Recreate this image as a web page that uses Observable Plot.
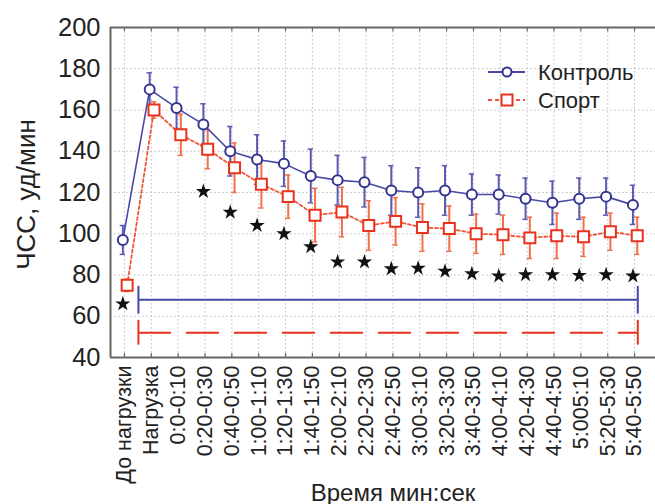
<!DOCTYPE html>
<html>
<head>
<meta charset="utf-8">
<script src="https://cdn.jsdelivr.net/npm/d3@7"></script>
<script src="https://cdn.jsdelivr.net/npm/@observablehq/plot@0.6"></script>
<style>
  html, body { margin: 0; padding: 0; background: #fff; }
  #chart svg { display: block; font-family: "Liberation Sans", Arial, sans-serif; }
</style>
</head>
<body>
<div id="chart"></div>
<script>
// ---- data ----
const categories = ["До нагрузки","Нагрузка","0:0-0:10","0:20-0:30","0:40-0:50","1:00-1:10","1:20-1:30","1:40-1:50","2:00-2:10","2:20-2:30","2:40-2:50","3:00-3:10","3:20-3:30","3:40-3:50","4:00-4:10","4:20-4:30","4:40-4:50","5:005:10","5:20-5:30","5:40-5:50"];
const controlMean = [97,170,161,153,140,136,134,128,126,125,121,120,121,119,119,117,115,117,118,114];
const controlErr  = [7,8,10,10,12,12,11,13,12,12,12,12,12,10,9.5,10,10.5,10,9,9.5];
const sportMean   = [75,160,148,141,132,124,118,109,110.5,104,106,103,102.5,100,99.5,98,99,98.5,101,99];
const sportErr    = [3,4,10,9.5,12,11.5,10.5,13,12,12,11.5,11.5,11,9.5,9.5,10,11,9.5,9,9];
const starIndex   = [0,3,4,5,6,7,8,9,10,11,12,13,14,15,16,17,18,19];
const starValue   = [66,120.5,110.4,104,100,93.7,86.3,86.3,83,83.3,81.8,80.6,79.5,80.1,80.1,79.8,80.1,79.5];
const yTicks      = [40,60,80,100,120,140,160,180,200];
const brackets    = [
  {series: "Контроль", from: 0.52, to: 19.12, y: 68, capLo: 61, capHi: 74.5},
  {series: "Спорт",    from: 0.52, to: 19.12, y: 52, capLo: 46, capHi: 58}
];
const seriesNames = ["Контроль", "Спорт"];

// ---- styles ----
const FONT = '"Liberation Sans", Arial, sans-serif';
const BLUE = "#34348f", BLUE_ERR = "#5a5ab4", BLUE_LINE = "#4848a8";
const RED = "#e8321e", RED_ERR = "#f0704c", RED_LINE = "#ef5536";
const AX = "#666";
const xDomain = [-0.52, 19.78];
const dBlue = -0.06, dRed = 0.1;

const idx = d3.range(categories.length);
const control = idx.map(i => ({x: i + dBlue, m: controlMean[i], lo: controlMean[i] - controlErr[i], hi: controlMean[i] + controlErr[i]}));
const sport = idx.map(i => ({x: i + dRed, m: sportMean[i], lo: sportMean[i] - sportErr[i], hi: sportMean[i] + sportErr[i]}));
const stars = starIndex.map((i, k) => ({x: i + dBlue, y: starValue[k]}));
const capW = 0.1;

const errMarks = (data, color) => [
  Plot.ruleX(data, {x: "x", y1: "lo", y2: "hi", stroke: color, strokeWidth: 2}),
  Plot.ruleY(data, {y: "hi", x1: d => d.x - capW, x2: d => d.x + capW, stroke: color, strokeWidth: 1.5}),
  Plot.ruleY(data, {y: "lo", x1: d => d.x - capW, x2: d => d.x + capW, stroke: color, strokeWidth: 1.5})
];

const bracketMarks = (b, color, dash) => [
  Plot.ruleY([b], {y: "y", x1: "from", x2: "to", stroke: color, strokeWidth: 2, strokeDasharray: dash}),
  Plot.ruleX([b], {x: "from", y1: "capLo", y2: "capHi", stroke: color, strokeWidth: 2}),
  Plot.ruleX([b], {x: "to", y1: "capLo", y2: "capHi", stroke: color, strokeWidth: 2})
];

const chart = Plot.plot({
  width: 655,
  height: 504,
  marginLeft: 110,
  marginRight: 0,
  marginTop: 27,
  marginBottom: 147,
  style: {fontFamily: FONT, color: "#222", background: "#fff"},
  x: {domain: xDomain, axis: null},
  y: {domain: [40, 200], axis: null},
  marks: [
    Plot.gridX(idx, {stroke: "#bdbdbd", strokeOpacity: 1, strokeDasharray: "1.5,2.5"}),
    Plot.gridY(yTicks, {stroke: "#bdbdbd", strokeOpacity: 1, strokeDasharray: "1.5,2.5"}),
    Plot.ruleY([40, 200], {stroke: AX, strokeWidth: 2}),
    Plot.ruleX([xDomain[0]], {stroke: AX, strokeWidth: 2}),
    Plot.ruleX(idx, {y1: 40, y2: 42, stroke: AX, strokeWidth: 1.2}),
    Plot.ruleX(idx, {y1: 198, y2: 200, stroke: AX, strokeWidth: 1.2}),
    ...bracketMarks(brackets[0], BLUE_LINE, null),
    ...bracketMarks(brackets[1], RED, "33,15"),
    ...errMarks(control, BLUE_ERR),
    ...errMarks(sport, RED_ERR),
    Plot.line(control, {x: "x", y: "m", stroke: BLUE_LINE, strokeWidth: 1.6}),
    Plot.line(sport, {x: "x", y: "m", stroke: RED_LINE, strokeWidth: 1.8, strokeDasharray: "3,2.5"}),
    Plot.dot(control, {x: "x", y: "m", r: 5, stroke: BLUE, strokeWidth: 2, fill: "white"}),
    Plot.dot(sport, {x: "x", y: "m", r: 6.2, symbol: "square", stroke: RED, strokeWidth: 2, fill: "white"}),
    Plot.dot(stars, {x: "x", y: "y", r: 4.8, symbol: "star", fill: "#111", stroke: "none"}),
    Plot.axisY(yTicks, {tickSize: 0, tickPadding: 10, fontSize: 25.5, fill: "#222", label: null}),
    Plot.axisX(idx, {tickSize: 0, tickPadding: 8, tickRotate: -90, fontSize: 21.5, fill: "#222", tickFormat: i => categories[i], label: null}),
    Plot.text(["Время мин:сек"], {frameAnchor: "bottom", dy: 143, dx: 10, lineAnchor: "bottom", textAnchor: "middle", fontSize: 24, fill: "#222"}),
    Plot.text(["ЧСС, уд/мин"], {frameAnchor: "left", dx: -84, dy: 2, rotate: -90, textAnchor: "middle", fontSize: 26, fill: "#222"})
  ]
});

// ---- legend (inside the plot, top-right) ----
const svg = d3.select(chart);
const lg = svg.append("g").attr("font-family", FONT).attr("font-size", 22).attr("fill", "#222").attr("text-anchor", "start");
const legendItems = [
  {name: seriesNames[0], color: BLUE_LINE, mark: BLUE, dash: null, sym: "circle"},
  {name: seriesNames[1], color: RED_LINE, mark: RED, dash: "4,3", sym: "square"}
];
legendItems.forEach((it, k) => {
  const gy = 72 + k * 28;
  const g = lg.append("g").attr("transform", `translate(488,${gy})`);
  g.append("line").attr("x1", 0).attr("x2", 37).attr("y1", 0).attr("y2", 0)
    .attr("stroke", it.color).attr("stroke-width", 1.8).attr("stroke-dasharray", it.dash);
  if (it.sym === "circle") {
    g.append("circle").attr("cx", 19).attr("cy", 0).attr("r", 4.5).attr("fill", "white").attr("stroke", it.mark).attr("stroke-width", 2);
  } else {
    g.append("rect").attr("x", 13.5).attr("y", -5.5).attr("width", 11).attr("height", 11).attr("fill", "white").attr("stroke", it.mark).attr("stroke-width", 2);
  }
  g.append("text").attr("x", 50).attr("y", 0).attr("dy", "0.35em").attr("text-anchor", "start").text(it.name);
});

document.getElementById("chart").appendChild(chart);
</script>
</body>
</html>
